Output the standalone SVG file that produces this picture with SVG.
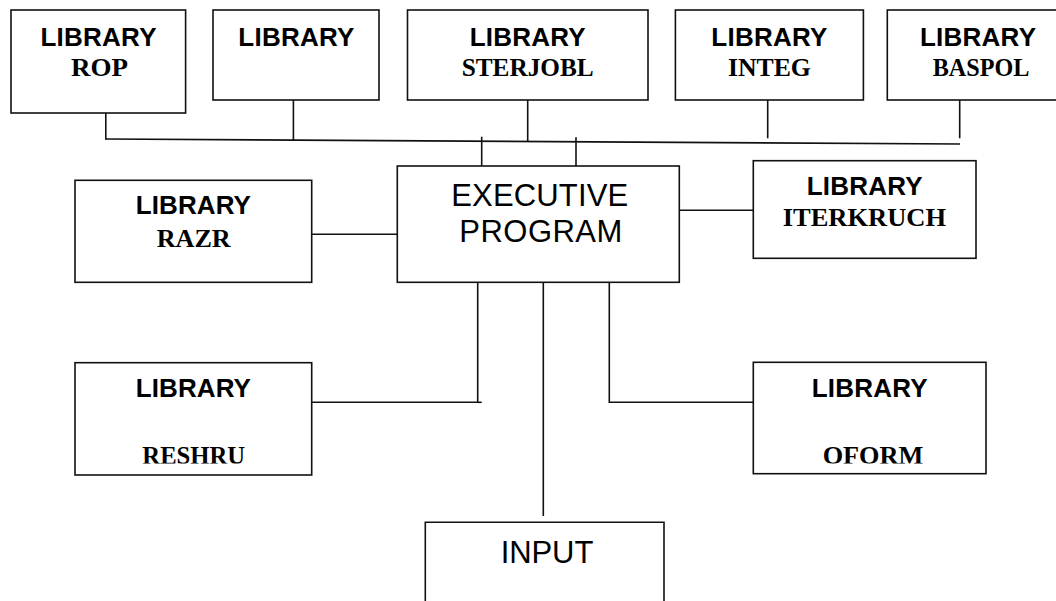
<svg xmlns="http://www.w3.org/2000/svg" width="1056" height="601" viewBox="0 0 1056 601">
<style>
rect, .box { fill: #fff; stroke: #111; stroke-width: 1.6; }
.box { fill: none; }
.c { stroke: #111; stroke-width: 1.6; fill: none; }
text { text-anchor: middle; fill: #000; }
.lib { font-family: "Liberation Sans", Arial, sans-serif; font-weight: bold; font-size: 26px; }
.nm { font-family: "Liberation Serif", "Times New Roman", serif; font-weight: bold; font-size: 25px; }
.big { font-family: "Liberation Sans", Arial, sans-serif; font-size: 31px; }
</style>
<defs>
<clipPath id="cut"><rect x="0" y="0" width="1056" height="463.6" style="fill:#fff;stroke:none"/></clipPath>
</defs>
<rect x="0" y="0" width="1056" height="601" style="fill:#fff;stroke:none"/>
<g id="connectors">
<line class="c" x1="105.8" y1="139" x2="960" y2="144"/>
<line class="c" x1="105.8" y1="113" x2="105.8" y2="139.8"/>
<line class="c" x1="293.4" y1="100" x2="293.4" y2="140.5"/>
<line class="c" x1="527.7" y1="100" x2="527.7" y2="141.8"/>
<line class="c" x1="767.7" y1="100" x2="767.7" y2="138.3"/>
<line class="c" x1="959.7" y1="100" x2="959.7" y2="138.3"/>
<line class="c" x1="481.7" y1="136.7" x2="481.7" y2="166"/>
<line class="c" x1="576" y1="137.3" x2="576" y2="166"/>
<line class="c" x1="311.7" y1="234.3" x2="397.3" y2="234.3"/>
<line class="c" x1="679.3" y1="210.3" x2="753.3" y2="210.3"/>
<polyline class="c" points="477.7,280 477.7,402.3 311.7,402.3"/>
<line class="c" x1="477.7" y1="402.3" x2="481.7" y2="402.3"/>
<line class="c" x1="543.3" y1="275" x2="543.3" y2="516"/>
<polyline class="c" points="609.3,280 609.3,402.3 753.3,402.3"/>
</g>
<g id="rop">
<rect x="11" y="10" width="174.6" height="103"/>
<text class="lib" x="98.5" y="46" textLength="116">LIBRARY</text>
<text class="nm" x="99.4" y="76" textLength="57" lengthAdjust="spacingAndGlyphs">ROP</text>
</g>
<g id="library">
<rect x="213" y="10" width="166" height="90"/>
<text class="lib" x="296.3" y="46" textLength="116">LIBRARY</text>
</g>
<g id="sterjobl">
<rect x="407.5" y="10" width="240.5" height="90"/>
<text class="lib" x="527.7" y="46" textLength="116">LIBRARY</text>
<text class="nm" x="527.7" y="76" textLength="132" lengthAdjust="spacingAndGlyphs">STERJOBL</text>
</g>
<g id="integ">
<rect x="675.4" y="10" width="188" height="90"/>
<text class="lib" x="769.3" y="46" textLength="116">LIBRARY</text>
<text class="nm" x="769.4" y="76" textLength="83" lengthAdjust="spacingAndGlyphs">INTEG</text>
</g>
<g id="baspol">
<rect x="887.3" y="10" width="190" height="90"/>
<text class="lib" x="978" y="46" textLength="116">LIBRARY</text>
<text class="nm" x="981" y="76" textLength="96.7" lengthAdjust="spacingAndGlyphs">BASPOL</text>
</g>
<g id="razr">
<rect x="75" y="180.3" width="236.7" height="102"/>
<text class="lib" x="193.3" y="214.3" textLength="115.3">LIBRARY</text>
<text class="nm" x="193.7" y="246.7" textLength="74" lengthAdjust="spacingAndGlyphs">RAZR</text>
</g>
<g id="executive">
<rect x="397.3" y="166" width="282" height="116.3"/>
<text class="big" x="539.7" y="206" textLength="177">EXECUTIVE</text>
<text class="big" x="540.8" y="242.3" textLength="163">PROGRAM</text>
</g>
<g id="iterkruch">
<rect x="753.3" y="160.7" width="222.7" height="97.6"/>
<text class="lib" x="864.7" y="195" textLength="116">LIBRARY</text>
<text class="nm" x="864.4" y="226" textLength="163.3" lengthAdjust="spacingAndGlyphs">ITERKRUCH</text>
</g>
<g id="reshru">
<rect x="75" y="362.7" width="236.7" height="112.3"/>
<text class="lib" x="193.3" y="396.7" textLength="115.3">LIBRARY</text>
<text class="nm" x="193.7" y="464.3" textLength="102.7" lengthAdjust="spacingAndGlyphs" clip-path="url(#cut)">RESHRU</text>
</g>
<g id="oform">
<rect x="753.3" y="362.3" width="232.7" height="111.4"/>
<text class="lib" x="869.7" y="396.7" textLength="116">LIBRARY</text>
<text class="nm" x="873" y="464.3" textLength="100.7" lengthAdjust="spacingAndGlyphs" clip-path="url(#cut)">OFORM</text>
</g>
<g id="input">
<path class="box" d="M425.3,601 V522.3 H664 V601"/>
<text class="big" x="547" y="563.3" textLength="92.7">INPUT</text>
</g>
</svg>
